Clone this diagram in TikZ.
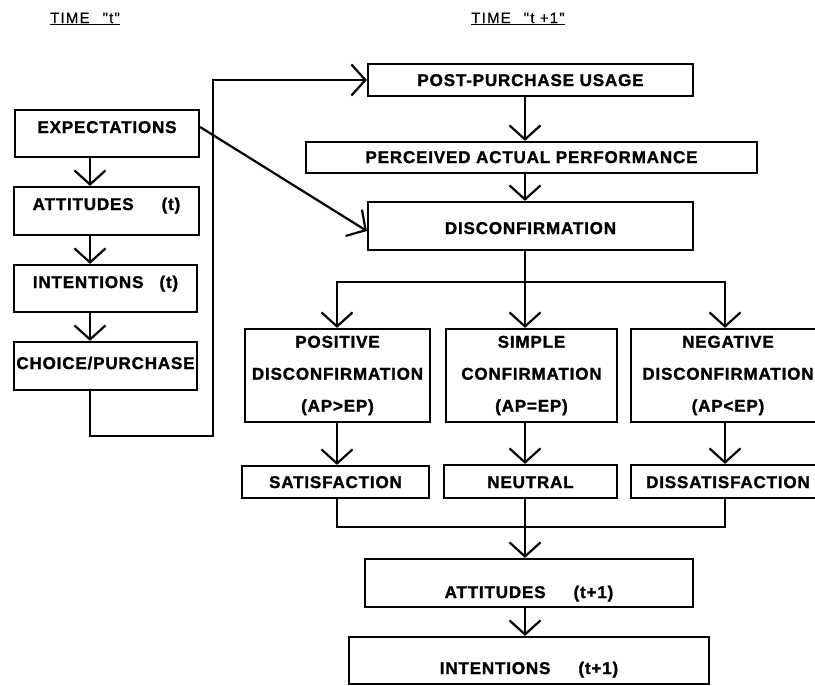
\documentclass[tikz,border=0pt]{standalone}
\usepackage{fontspec}
\setmainfont{Liberation Sans}
\newfontfamily\boxfont{Liberation Sans}[LetterSpace=5.0,FakeBold=1.5]
\newfontfamily\headfont{Liberation Sans}[Ligatures=TeXOff,LetterSpace=8.0,FakeBold=0.6]
\usepackage{tikz}
\usetikzlibrary{arrows.meta}

\tikzset{
  box/.style={draw,line width=2.2pt,inner sep=0pt,align=center,
    font=\boxfont\bfseries\fontsize{17}{32}\selectfont},
  arr/.style={line width=2.2pt,-{Straight Barb[length=14pt,width=31pt]}},
  conn/.style={line width=2.2pt},
  timehead/.style={font=\headfont\fontsize{15}{17}\selectfont,inner sep=0pt}
}

\begin{document}
\begin{tikzpicture}[x=1pt,y=-1pt]
  \useasboundingbox (0,0) rectangle (815,686);
  % headings
  \node[timehead] (tA) at (85,19) {\underline{TIME\hspace{13pt}"t"}};
  \node[timehead] (tB) at (518,19) {\underline{TIME\hspace{13pt}"t +1"}};
  % columns for the connectors
  \coordinate (lcol) at (90,0);
  \coordinate (pcol) at (337,0);
  \coordinate (mcol) at (525,0);
  \coordinate (ncol) at (725,0);
  % time t
  \node[box,minimum width=184pt,text height=23pt,text depth=24pt] (exp) at (107,133.5) {EXPECTATIONS};
  \node[box,minimum width=185pt,text height=23pt,text depth=25pt] (att) at (106.5,211) {ATTITUDES\hspace{28pt}(t)};
  \node[box,minimum width=183pt,text height=23pt,text depth=24pt] (int) at (105.5,288.5) {INTENTIONS\hspace{16pt}(t)};
  \node[box,minimum width=183pt,text height=27pt,text depth=21pt] (cho) at (105.5,366) {CHOICE/PURCHASE};
  % time t+1
  \node[box,minimum width=325pt,text height=22pt,text depth=10pt] (post) at (530.5,80) {POST-PURCHASE USAGE};
  \node[box,minimum width=451pt,text height=21pt,text depth=10pt] (perc) at (531.5,157.5) {PERCEIVED ACTUAL PERFORMANCE};
  \node[box,minimum width=325pt,text height=32pt,text depth=16pt] (disc) at (530.5,226) {DISCONFIRMATION};
  \node[box,minimum width=185pt,minimum height=93pt,yshift=-2pt] (pos) at (337.5,373.5) {POSITIVE\\DISCONFIRMATION\\(AP>EP)};
  \node[box,minimum width=171pt,minimum height=93pt,yshift=-2pt] (sim) at (531.5,373.5) {SIMPLE\\CONFIRMATION\\(AP=EP)};
  \node[box,minimum width=194pt,minimum height=93pt,yshift=-2pt] (neg) at (728,373.5) {NEGATIVE\\DISCONFIRMATION\\(AP<EP)};
  \node[box,minimum width=187pt,text height=22pt,text depth=10pt] (sat) at (335.5,482) {SATISFACTION};
  \node[box,minimum width=173pt,text height=23pt,text depth=10pt] (neu) at (530.5,481.5) {NEUTRAL};
  \node[box,minimum width=194pt,text height=23pt,text depth=10pt] (dis) at (728,481.5) {DISSATISFACTION};
  \node[box,minimum width=328pt,text height=39pt,text depth=9pt] (att2) at (529,583) {ATTITUDES\hspace{28pt}(t+1)};
  \node[box,minimum width=360pt,text height=37pt,text depth=10pt] (int2) at (529,660.5) {INTENTIONS\hspace{28pt}(t+1)};
  % connectors, time t
  \draw[arr] (exp.south -| lcol) -- (att.north -| lcol);
  \draw[arr] (att.south -| lcol) -- (int.north -| lcol);
  \draw[arr] (int.south -| lcol) -- (cho.north -| lcol);
  \coordinate (loop) at (213,436);
  \draw[arr] (cho.south -| lcol) |- (loop) |- (post.west);
  \draw[arr] ([yshift=6.5pt]exp.east) -- ([yshift=-5pt]disc.west);
  % connectors, time t+1
  \draw[arr] (post.south -| mcol) -- (perc.north -| mcol);
  \draw[arr] (perc.south -| mcol) -- (disc.north -| mcol);
  \coordinate (split) at (525,282);
  \draw[arr] (disc.south -| mcol) -- (sim.north -| mcol);
  \draw[arr] (split) -| (pos.north -| pcol);
  \draw[arr] (split) -| (neg.north -| ncol);
  \draw[arr] (pos.south -| pcol) -- (sat.north -| pcol);
  \draw[arr] (sim.south -| mcol) -- (neu.north -| mcol);
  \draw[arr] (neg.south -| ncol) -- (dis.north -| ncol);
  \coordinate (merge) at (525,527);
  \draw[conn] (sat.south -| pcol) |- (merge) -| (dis.south -| ncol);
  \draw[arr] (neu.south -| mcol) -- (att2.north -| mcol);
  \draw[arr] (att2.south -| mcol) -- (int2.north -| mcol);
\end{tikzpicture}
\end{document}
